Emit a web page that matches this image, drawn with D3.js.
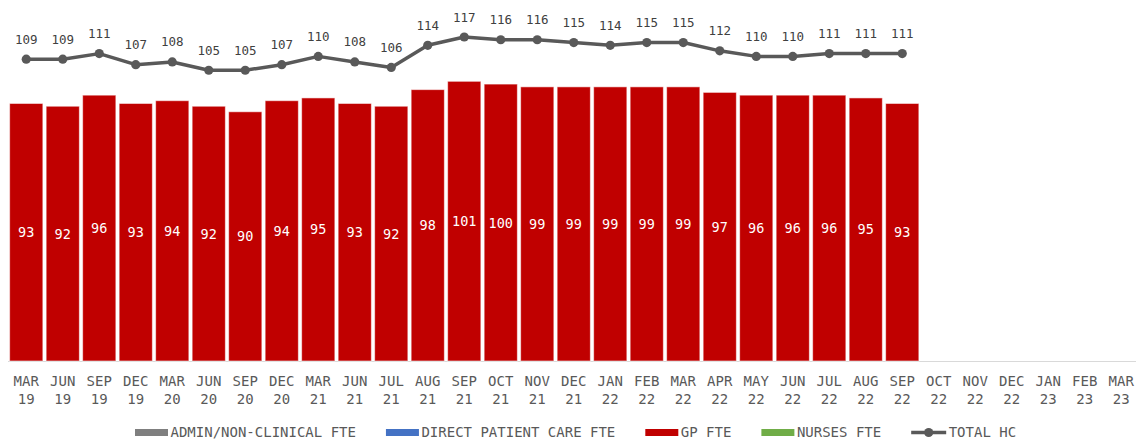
<!DOCTYPE html>
<html>
<head>
<meta charset="utf-8">
<script src="https://cdn.jsdelivr.net/npm/d3@7"></script>
<style>
  html, body { margin: 0; padding: 0; background: #fff; }
  svg { display: block; }
  text { font-family: "DejaVu Sans Mono", "Liberation Mono", monospace; }
</style>
</head>
<body>
<svg id="chart" width="1136" height="439"></svg>
<script>
// Reporting periods (month + two-digit year)
const periods = [
  "MAR 19", "JUN 19", "SEP 19", "DEC 19", "MAR 20", "JUN 20", "SEP 20", "DEC 20",
  "MAR 21", "JUN 21", "JUL 21", "AUG 21", "SEP 21", "OCT 21", "NOV 21", "DEC 21",
  "JAN 22", "FEB 22", "MAR 22", "APR 22", "MAY 22", "JUN 22", "JUL 22", "AUG 22",
  "SEP 22", "OCT 22", "NOV 22", "DEC 22", "JAN 23", "FEB 23", "MAR 23"
];

// GP full-time equivalents per period (data available up to SEP 22)
const gpFte = [93, 92, 96, 93, 94, 92, 90, 94, 95, 93, 92, 98, 101, 100, 99, 99,
               99, 99, 99, 97, 96, 96, 96, 95, 93];

// Total headcount per period
const totalHc = [109, 109, 111, 107, 108, 105, 105, 107, 110, 108, 106, 114, 117,
                 116, 116, 115, 114, 115, 115, 112, 110, 110, 111, 111, 111];

// Legend entries
const legendItems = [
  { name: "ADMIN/NON-CLINICAL FTE", kind: "bar", color: "#7f7f7f" },
  { name: "DIRECT PATIENT CARE FTE", kind: "bar", color: "#4472c4" },
  { name: "GP FTE", kind: "bar", color: "#c00000" },
  { name: "NURSES FTE", kind: "bar", color: "#70ad47" },
  { name: "TOTAL HC", kind: "line", color: "#595959" }
];

const svg = d3.select("#chart");

const x = d3.scaleBand()
  .domain(periods)
  .range([8, 8 + periods.length * 36.5])
  .paddingInner(0.09)
  .paddingOuter(0.045);

const y = d3.scaleLinear().domain([0, 130]).range([361, 1]);

// Baseline
svg.append("line")
  .attr("x1", 8).attr("x2", 1136)
  .attr("y1", y(0) + 0.5).attr("y2", y(0) + 0.5)
  .attr("stroke", "#d9d9d9").attr("stroke-width", 1);

// GP FTE bars
const gpData = gpFte.map((v, i) => ({ period: periods[i], value: v }));

svg.append("g").selectAll("rect")
  .data(gpData)
  .join("rect")
  .attr("x", d => x(d.period))
  .attr("width", x.bandwidth())
  .attr("y", d => y(d.value))
  .attr("height", d => y(0) - y(d.value))
  .attr("fill", "#c00000")
  .attr("stroke", "rgba(255,255,255,0.55)")
  .attr("stroke-width", 1);

svg.append("g").selectAll("text")
  .data(gpData)
  .join("text")
  .attr("x", d => x(d.period) + x.bandwidth() / 2)
  .attr("y", d => (y(d.value) + y(0)) / 2)
  .attr("text-anchor", "middle")
  .attr("dominant-baseline", "central")
  .attr("fill", "#ffffff")
  .attr("font-size", "13.5px")
  .text(d => d.value);

// Total HC line with markers
const hcData = totalHc.map((v, i) => ({ period: periods[i], value: v }));
const cx = d => x(d.period) + x.bandwidth() / 2;

svg.append("path")
  .datum(hcData)
  .attr("fill", "none")
  .attr("stroke", "#595959")
  .attr("stroke-width", 3.5)
  .attr("stroke-linejoin", "round")
  .attr("d", d3.line().x(cx).y(d => y(d.value)));

svg.append("g").selectAll("circle")
  .data(hcData)
  .join("circle")
  .attr("cx", cx)
  .attr("cy", d => y(d.value))
  .attr("r", 4.6)
  .attr("fill", "#595959");

svg.append("g").selectAll("text")
  .data(hcData)
  .join("text")
  .attr("x", cx)
  .attr("y", d => y(d.value) - 20)
  .attr("text-anchor", "middle")
  .attr("dominant-baseline", "central")
  .attr("fill", "#404040")
  .attr("font-size", "12.5px")
  .text(d => d.value);

// Category axis labels (two lines)
const xAxis = svg.append("g");
periods.forEach(p => {
  const [mon, yr] = p.split(" ");
  const t = xAxis.append("text")
    .attr("x", x(p) + x.bandwidth() / 2)
    .attr("text-anchor", "middle")
    .attr("fill", "#595959")
    .attr("font-size", "14px");
  t.append("tspan").attr("x", x(p) + x.bandwidth() / 2).attr("y", 386).text(mon);
  t.append("tspan").attr("x", x(p) + x.bandwidth() / 2).attr("y", 403.5).text(yr);
});

// Legend
const legend = svg.append("g");
let lx = 135;
const ly = 432.5;
legendItems.forEach(item => {
  const g = legend.append("g");
  if (item.kind === "bar") {
    g.append("rect")
      .attr("x", lx).attr("y", ly - 3.5)
      .attr("width", 33).attr("height", 7)
      .attr("fill", item.color);
  } else {
    g.append("line")
      .attr("x1", lx).attr("x2", lx + 35)
      .attr("y1", ly).attr("y2", ly)
      .attr("stroke", item.color).attr("stroke-width", 3.5);
    g.append("circle")
      .attr("cx", lx + 17.5).attr("cy", ly).attr("r", 4.6)
      .attr("fill", item.color);
  }
  const sw = item.kind === "bar" ? 33 : 35;
  const t = g.append("text")
    .attr("x", lx + sw + 2.5)
    .attr("y", 437)
    .attr("fill", "#595959")
    .attr("font-size", "14px")
    .text(item.name);
  lx += sw + 2.5 + t.node().getComputedTextLength() + 30;
});
</script>
</body>
</html>
